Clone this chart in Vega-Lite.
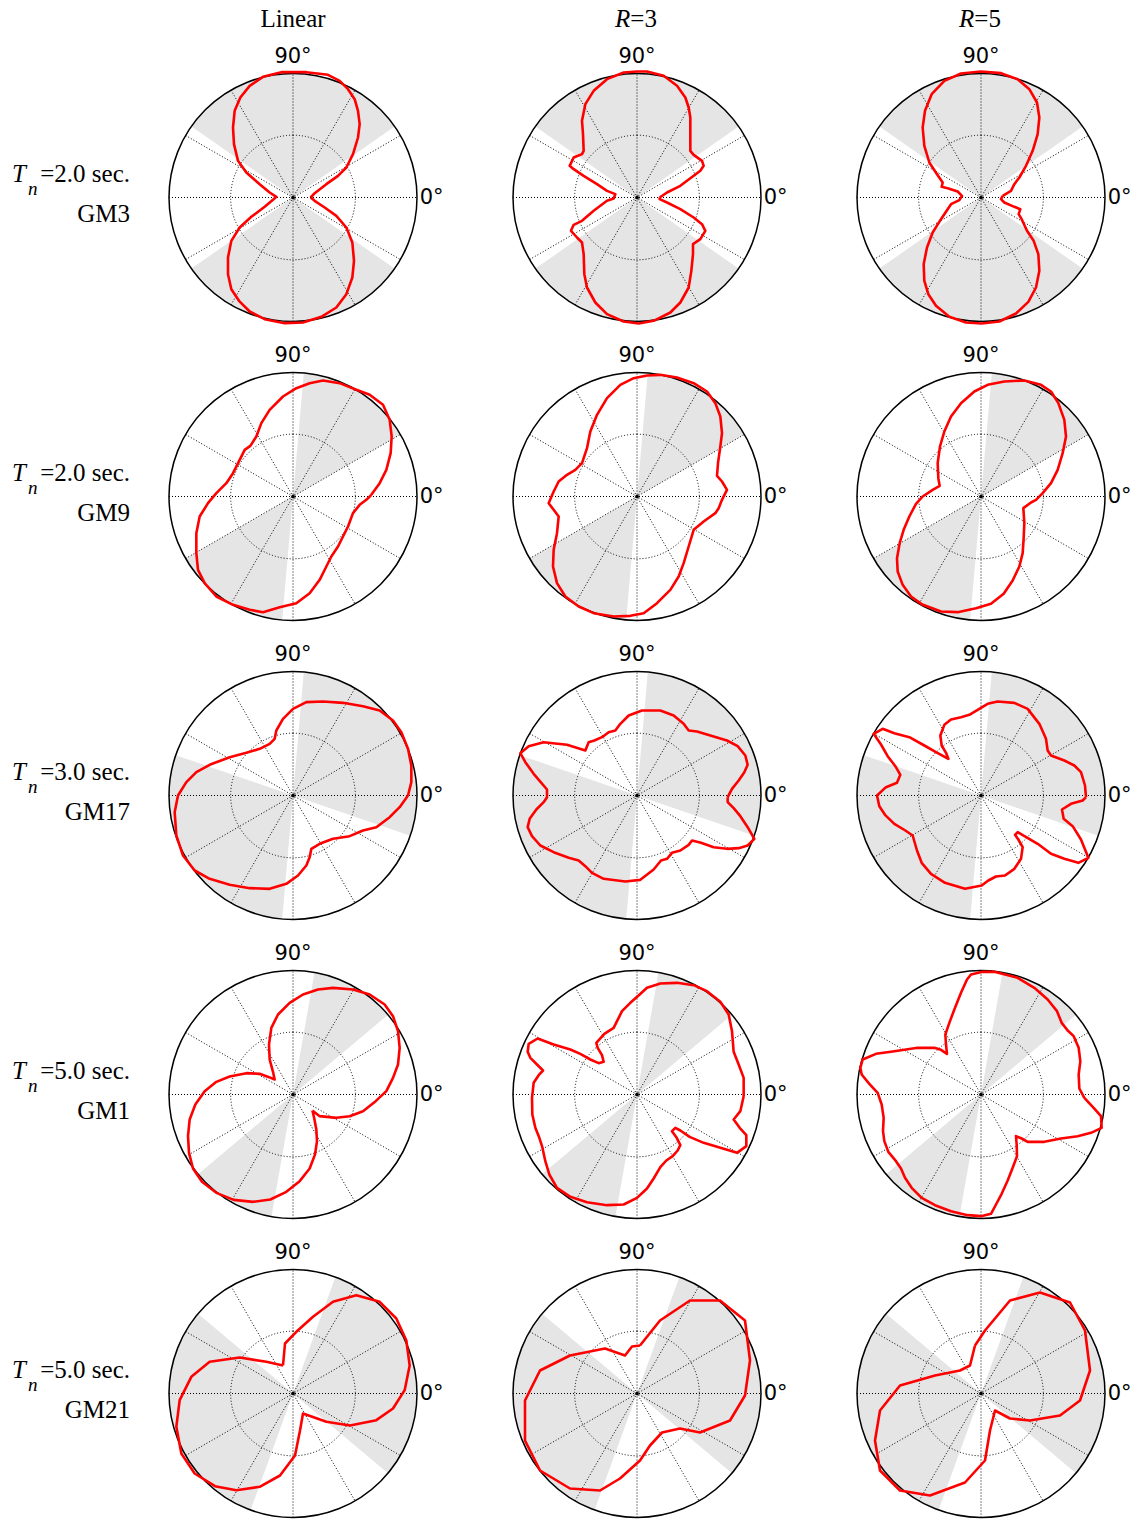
{
"$schema":"https://vega.github.io/schema/vega-lite/v6.json",
"background":"white",
"padding":{"left":12,"top":6,"right":5,"bottom":5},
"config":{"view":{"stroke":null}},
"data":{"values":[
{"r":1,"c":1,"k":"p","t":"=2.0 sec.","g":"GM3","h":"Linear"},
{"r":1,"c":2,"k":"p","h":"=3"},
{"r":1,"c":3,"k":"p","h":"=5"},
{"r":2,"c":1,"k":"p","t":"=2.0 sec.","g":"GM9"},
{"r":2,"c":2,"k":"p"},
{"r":2,"c":3,"k":"p"},
{"r":3,"c":1,"k":"p","t":"=3.0 sec.","g":"GM17"},
{"r":3,"c":2,"k":"p"},
{"r":3,"c":3,"k":"p"},
{"r":4,"c":1,"k":"p","t":"=5.0 sec.","g":"GM1"},
{"r":4,"c":2,"k":"p"},
{"r":4,"c":3,"k":"p"},
{"r":5,"c":1,"k":"p","t":"=5.0 sec.","g":"GM21"},
{"r":5,"c":2,"k":"p"},
{"r":5,"c":3,"k":"p"},
{"r":1,"c":1,"k":"w","a1":35,"a2":145},{"r":1,"c":1,"k":"w","a1":215,"a2":325},
{"r":1,"c":2,"k":"w","a1":35,"a2":145},{"r":1,"c":2,"k":"w","a1":215,"a2":325},
{"r":1,"c":3,"k":"w","a1":35,"a2":145},{"r":1,"c":3,"k":"w","a1":215,"a2":325},
{"r":2,"c":1,"k":"w","a1":30,"a2":85},{"r":2,"c":1,"k":"w","a1":210,"a2":265},
{"r":2,"c":2,"k":"w","a1":30,"a2":85},{"r":2,"c":2,"k":"w","a1":210,"a2":265},
{"r":2,"c":3,"k":"w","a1":30,"a2":85},{"r":2,"c":3,"k":"w","a1":210,"a2":265},
{"r":3,"c":1,"k":"w","a1":-19,"a2":85},{"r":3,"c":1,"k":"w","a1":161,"a2":265},
{"r":3,"c":2,"k":"w","a1":-19,"a2":85},{"r":3,"c":2,"k":"w","a1":161,"a2":265},
{"r":3,"c":3,"k":"w","a1":-19,"a2":85},{"r":3,"c":3,"k":"w","a1":161,"a2":265},
{"r":4,"c":1,"k":"w","a1":40,"a2":80},{"r":4,"c":1,"k":"w","a1":220,"a2":260},
{"r":4,"c":2,"k":"w","a1":40,"a2":80},{"r":4,"c":2,"k":"w","a1":220,"a2":260},
{"r":4,"c":3,"k":"w","a1":40,"a2":80},{"r":4,"c":3,"k":"w","a1":220,"a2":260},
{"r":5,"c":1,"k":"w","a1":-40,"a2":70},{"r":5,"c":1,"k":"w","a1":140,"a2":250},
{"r":5,"c":2,"k":"w","a1":-40,"a2":70},{"r":5,"c":2,"k":"w","a1":140,"a2":250},
{"r":5,"c":3,"k":"w","a1":-40,"a2":70},{"r":5,"c":3,"k":"w","a1":140,"a2":250},

{"r":1,"c":1,"k":"c","x":0.53,"y":0},{"r":1,"c":1,"k":"c","x":0.65,"y":0.13},{"r":1,"c":1,"k":"c","x":1.0,"y":0.4},{"r":1,"c":1,"k":"c","x":1.35,"y":0.65},{"r":1,"c":1,"k":"c","x":1.6,"y":0.9},{"r":1,"c":1,"k":"c","x":1.8,"y":1.3},{"r":1,"c":1,"k":"c","x":1.95,"y":1.8},{"r":1,"c":1,"k":"c","x":2.0,"y":2.2},{"r":1,"c":1,"k":"c","x":1.95,"y":2.6},{"r":1,"c":1,"k":"c","x":1.85,"y":2.95},{"r":1,"c":1,"k":"c","x":1.65,"y":3.25},{"r":1,"c":1,"k":"c","x":1.4,"y":3.5},{"r":1,"c":1,"k":"c","x":1.05,"y":3.68},{"r":1,"c":1,"k":"c","x":0.4,"y":3.76},{"r":1,"c":1,"k":"c","x":-0.35,"y":3.76},{"r":1,"c":1,"k":"c","x":-0.9,"y":3.62},{"r":1,"c":1,"k":"c","x":-1.3,"y":3.35},{"r":1,"c":1,"k":"c","x":-1.58,"y":3.0},{"r":1,"c":1,"k":"c","x":-1.75,"y":2.6},{"r":1,"c":1,"k":"c","x":-1.8,"y":2.1},{"r":1,"c":1,"k":"c","x":-1.77,"y":1.6},{"r":1,"c":1,"k":"c","x":-1.65,"y":1.1},{"r":1,"c":1,"k":"c","x":-1.4,"y":0.75},{"r":1,"c":1,"k":"c","x":-1.0,"y":0.4},{"r":1,"c":1,"k":"c","x":-0.7,"y":0.15},{"r":1,"c":1,"k":"c","x":-0.5,"y":0.02},{"r":1,"c":1,"k":"c","x":-0.6,"y":-0.07},{"r":1,"c":1,"k":"c","x":-0.85,"y":-0.28},{"r":1,"c":1,"k":"c","x":-1.25,"y":-0.58},{"r":1,"c":1,"k":"c","x":-1.6,"y":-0.9},{"r":1,"c":1,"k":"c","x":-1.85,"y":-1.3},{"r":1,"c":1,"k":"c","x":-1.95,"y":-1.8},{"r":1,"c":1,"k":"c","x":-1.95,"y":-2.3},{"r":1,"c":1,"k":"c","x":-1.85,"y":-2.75},{"r":1,"c":1,"k":"c","x":-1.62,"y":-3.1},{"r":1,"c":1,"k":"c","x":-1.3,"y":-3.42},{"r":1,"c":1,"k":"c","x":-0.85,"y":-3.65},{"r":1,"c":1,"k":"c","x":-0.25,"y":-3.77},{"r":1,"c":1,"k":"c","x":0.3,"y":-3.75},{"r":1,"c":1,"k":"c","x":0.85,"y":-3.58},{"r":1,"c":1,"k":"c","x":1.3,"y":-3.3},{"r":1,"c":1,"k":"c","x":1.6,"y":-2.9},{"r":1,"c":1,"k":"c","x":1.78,"y":-2.4},{"r":1,"c":1,"k":"c","x":1.83,"y":-1.9},{"r":1,"c":1,"k":"c","x":1.78,"y":-1.35},{"r":1,"c":1,"k":"c","x":1.6,"y":-0.9},{"r":1,"c":1,"k":"c","x":1.3,"y":-0.55},{"r":1,"c":1,"k":"c","x":0.95,"y":-0.3},{"r":1,"c":1,"k":"c","x":0.65,"y":-0.1},{"r":1,"c":1,"k":"c","x":0.53,"y":0},

{"r":1,"c":2,"k":"c","x":0.68,"y":0},{"r":1,"c":2,"k":"c","x":0.9,"y":0.15},{"r":1,"c":2,"k":"c","x":1.3,"y":0.35},{"r":1,"c":2,"k":"c","x":1.7,"y":0.65},{"r":1,"c":2,"k":"c","x":1.9,"y":0.8},{"r":1,"c":2,"k":"c","x":2.0,"y":0.95},{"r":1,"c":2,"k":"c","x":1.95,"y":1.1},{"r":1,"c":2,"k":"c","x":1.7,"y":1.28},{"r":1,"c":2,"k":"c","x":1.6,"y":1.4},{"r":1,"c":2,"k":"c","x":1.6,"y":1.9},{"r":1,"c":2,"k":"c","x":1.6,"y":2.4},{"r":1,"c":2,"k":"c","x":1.55,"y":2.7},{"r":1,"c":2,"k":"c","x":1.45,"y":3.0},{"r":1,"c":2,"k":"c","x":1.2,"y":3.35},{"r":1,"c":2,"k":"c","x":0.8,"y":3.65},{"r":1,"c":2,"k":"c","x":0.3,"y":3.78},{"r":1,"c":2,"k":"c","x":0.0,"y":3.78},{"r":1,"c":2,"k":"c","x":-0.4,"y":3.75},{"r":1,"c":2,"k":"c","x":-0.9,"y":3.55},{"r":1,"c":2,"k":"c","x":-1.3,"y":3.2},{"r":1,"c":2,"k":"c","x":-1.55,"y":2.8},{"r":1,"c":2,"k":"c","x":-1.65,"y":2.3},{"r":1,"c":2,"k":"c","x":-1.62,"y":1.9},{"r":1,"c":2,"k":"c","x":-1.6,"y":1.4},{"r":1,"c":2,"k":"c","x":-1.65,"y":1.3},{"r":1,"c":2,"k":"c","x":-1.9,"y":1.2},{"r":1,"c":2,"k":"c","x":-2.02,"y":0.95},{"r":1,"c":2,"k":"c","x":-1.9,"y":0.85},{"r":1,"c":2,"k":"c","x":-1.6,"y":0.65},{"r":1,"c":2,"k":"c","x":-1.2,"y":0.4},{"r":1,"c":2,"k":"c","x":-0.9,"y":0.2},{"r":1,"c":2,"k":"c","x":-0.65,"y":0.1},{"r":1,"c":2,"k":"c","x":-0.7,"y":-0.03},{"r":1,"c":2,"k":"c","x":-0.9,"y":-0.1},{"r":1,"c":2,"k":"c","x":-1.3,"y":-0.4},{"r":1,"c":2,"k":"c","x":-1.65,"y":-0.7},{"r":1,"c":2,"k":"c","x":-1.9,"y":-0.82},{"r":1,"c":2,"k":"c","x":-1.98,"y":-1.0},{"r":1,"c":2,"k":"c","x":-1.8,"y":-1.2},{"r":1,"c":2,"k":"c","x":-1.65,"y":-1.35},{"r":1,"c":2,"k":"c","x":-1.6,"y":-1.7},{"r":1,"c":2,"k":"c","x":-1.58,"y":-2.3},{"r":1,"c":2,"k":"c","x":-1.5,"y":-2.7},{"r":1,"c":2,"k":"c","x":-1.25,"y":-3.15},{"r":1,"c":2,"k":"c","x":-0.9,"y":-3.5},{"r":1,"c":2,"k":"c","x":-0.4,"y":-3.72},{"r":1,"c":2,"k":"c","x":0.05,"y":-3.78},{"r":1,"c":2,"k":"c","x":0.5,"y":-3.7},{"r":1,"c":2,"k":"c","x":1.0,"y":-3.45},{"r":1,"c":2,"k":"c","x":1.3,"y":-3.15},{"r":1,"c":2,"k":"c","x":1.55,"y":-2.7},{"r":1,"c":2,"k":"c","x":1.63,"y":-2.2},{"r":1,"c":2,"k":"c","x":1.68,"y":-1.7},{"r":1,"c":2,"k":"c","x":1.68,"y":-1.4},{"r":1,"c":2,"k":"c","x":1.9,"y":-1.25},{"r":1,"c":2,"k":"c","x":2.05,"y":-1.0},{"r":1,"c":2,"k":"c","x":1.95,"y":-0.8},{"r":1,"c":2,"k":"c","x":1.7,"y":-0.6},{"r":1,"c":2,"k":"c","x":1.3,"y":-0.35},{"r":1,"c":2,"k":"c","x":0.9,"y":-0.15},{"r":1,"c":2,"k":"c","x":0.68,"y":-0.05},{"r":1,"c":2,"k":"c","x":0.68,"y":0},

{"r":1,"c":3,"k":"c","x":0.65,"y":0.05},{"r":1,"c":3,"k":"c","x":0.9,"y":0.2},{"r":1,"c":3,"k":"c","x":1.0,"y":0.4},{"r":1,"c":3,"k":"c","x":1.15,"y":0.6},{"r":1,"c":3,"k":"c","x":1.35,"y":0.95},{"r":1,"c":3,"k":"c","x":1.55,"y":1.4},{"r":1,"c":3,"k":"c","x":1.7,"y":1.9},{"r":1,"c":3,"k":"c","x":1.75,"y":2.4},{"r":1,"c":3,"k":"c","x":1.68,"y":2.85},{"r":1,"c":3,"k":"c","x":1.45,"y":3.25},{"r":1,"c":3,"k":"c","x":1.1,"y":3.55},{"r":1,"c":3,"k":"c","x":0.6,"y":3.73},{"r":1,"c":3,"k":"c","x":0,"y":3.78},{"r":1,"c":3,"k":"c","x":-0.6,"y":3.72},{"r":1,"c":3,"k":"c","x":-1.1,"y":3.5},{"r":1,"c":3,"k":"c","x":-1.48,"y":3.1},{"r":1,"c":3,"k":"c","x":-1.68,"y":2.6},{"r":1,"c":3,"k":"c","x":-1.75,"y":2.1},{"r":1,"c":3,"k":"c","x":-1.7,"y":1.55},{"r":1,"c":3,"k":"c","x":-1.55,"y":1.05},{"r":1,"c":3,"k":"c","x":-1.32,"y":0.7},{"r":1,"c":3,"k":"c","x":-1.15,"y":0.45},{"r":1,"c":3,"k":"c","x":-1.18,"y":0.32},{"r":1,"c":3,"k":"c","x":-1.0,"y":0.28},{"r":1,"c":3,"k":"c","x":-0.7,"y":0.18},{"r":1,"c":3,"k":"c","x":-0.57,"y":0.05},{"r":1,"c":3,"k":"c","x":-0.65,"y":-0.08},{"r":1,"c":3,"k":"c","x":-0.9,"y":-0.2},{"r":1,"c":3,"k":"c","x":-1.0,"y":-0.35},{"r":1,"c":3,"k":"c","x":-1.2,"y":-0.65},{"r":1,"c":3,"k":"c","x":-1.45,"y":-1.05},{"r":1,"c":3,"k":"c","x":-1.62,"y":-1.5},{"r":1,"c":3,"k":"c","x":-1.72,"y":-2.0},{"r":1,"c":3,"k":"c","x":-1.7,"y":-2.5},{"r":1,"c":3,"k":"c","x":-1.58,"y":-2.9},{"r":1,"c":3,"k":"c","x":-1.35,"y":-3.25},{"r":1,"c":3,"k":"c","x":-0.95,"y":-3.58},{"r":1,"c":3,"k":"c","x":-0.45,"y":-3.75},{"r":1,"c":3,"k":"c","x":0.02,"y":-3.78},{"r":1,"c":3,"k":"c","x":0.55,"y":-3.72},{"r":1,"c":3,"k":"c","x":1.05,"y":-3.48},{"r":1,"c":3,"k":"c","x":1.42,"y":-3.13},{"r":1,"c":3,"k":"c","x":1.65,"y":-2.7},{"r":1,"c":3,"k":"c","x":1.75,"y":-2.2},{"r":1,"c":3,"k":"c","x":1.72,"y":-1.7},{"r":1,"c":3,"k":"c","x":1.58,"y":-1.3},{"r":1,"c":3,"k":"c","x":1.38,"y":-1.0},{"r":1,"c":3,"k":"c","x":1.22,"y":-0.65},{"r":1,"c":3,"k":"c","x":1.13,"y":-0.5},{"r":1,"c":3,"k":"c","x":1.18,"y":-0.35},{"r":1,"c":3,"k":"c","x":1.0,"y":-0.28},{"r":1,"c":3,"k":"c","x":0.7,"y":-0.15},{"r":1,"c":3,"k":"c","x":0.6,"y":-0.05},{"r":1,"c":3,"k":"c","x":0.65,"y":0.05},

{"r":2,"c":1,"k":"c","x":2.35,"y":0.05},{"r":2,"c":1,"k":"c","x":2.6,"y":0.4},{"r":2,"c":1,"k":"c","x":2.8,"y":0.8},{"r":2,"c":1,"k":"c","x":2.93,"y":1.3},{"r":2,"c":1,"k":"c","x":2.96,"y":1.8},{"r":2,"c":1,"k":"c","x":2.9,"y":2.3},{"r":2,"c":1,"k":"c","x":2.7,"y":2.75},{"r":2,"c":1,"k":"c","x":2.3,"y":3.05},{"r":2,"c":1,"k":"c","x":1.9,"y":3.2},{"r":2,"c":1,"k":"c","x":1.4,"y":3.4},{"r":2,"c":1,"k":"c","x":0.9,"y":3.48},{"r":2,"c":1,"k":"c","x":0.5,"y":3.4},{"r":2,"c":1,"k":"c","x":0.1,"y":3.25},{"r":2,"c":1,"k":"c","x":-0.3,"y":3.0},{"r":2,"c":1,"k":"c","x":-0.7,"y":2.6},{"r":2,"c":1,"k":"c","x":-0.95,"y":2.2},{"r":2,"c":1,"k":"c","x":-1.1,"y":1.8},{"r":2,"c":1,"k":"c","x":-1.28,"y":1.52},{"r":2,"c":1,"k":"c","x":-1.45,"y":1.4},{"r":2,"c":1,"k":"c","x":-1.6,"y":1.1},{"r":2,"c":1,"k":"c","x":-1.8,"y":0.7},{"r":2,"c":1,"k":"c","x":-2.0,"y":0.4},{"r":2,"c":1,"k":"c","x":-2.3,"y":0.1},{"r":2,"c":1,"k":"c","x":-2.55,"y":-0.2},{"r":2,"c":1,"k":"c","x":-2.8,"y":-0.6},{"r":2,"c":1,"k":"c","x":-2.9,"y":-1.1},{"r":2,"c":1,"k":"c","x":-2.9,"y":-1.7},{"r":2,"c":1,"k":"c","x":-2.85,"y":-2.2},{"r":2,"c":1,"k":"c","x":-2.65,"y":-2.6},{"r":2,"c":1,"k":"c","x":-2.3,"y":-3.0},{"r":2,"c":1,"k":"c","x":-1.8,"y":-3.25},{"r":2,"c":1,"k":"c","x":-1.3,"y":-3.4},{"r":2,"c":1,"k":"c","x":-0.9,"y":-3.47},{"r":2,"c":1,"k":"c","x":-0.4,"y":-3.32},{"r":2,"c":1,"k":"c","x":0.1,"y":-3.2},{"r":2,"c":1,"k":"c","x":0.5,"y":-2.9},{"r":2,"c":1,"k":"c","x":0.8,"y":-2.5},{"r":2,"c":1,"k":"c","x":1.0,"y":-2.1},{"r":2,"c":1,"k":"c","x":1.15,"y":-1.8},{"r":2,"c":1,"k":"c","x":1.35,"y":-1.5},{"r":2,"c":1,"k":"c","x":1.5,"y":-1.2},{"r":2,"c":1,"k":"c","x":1.65,"y":-0.9},{"r":2,"c":1,"k":"c","x":1.8,"y":-0.5},{"r":2,"c":1,"k":"c","x":2.0,"y":-0.25},{"r":2,"c":1,"k":"c","x":2.2,"y":-0.1},{"r":2,"c":1,"k":"c","x":2.35,"y":0.05},

{"r":2,"c":2,"k":"c","x":2.65,"y":0.1},{"r":2,"c":2,"k":"c","x":2.7,"y":0.2},{"r":2,"c":2,"k":"c","x":2.55,"y":0.45},{"r":2,"c":2,"k":"c","x":2.4,"y":0.62},{"r":2,"c":2,"k":"c","x":2.43,"y":1.0},{"r":2,"c":2,"k":"c","x":2.5,"y":1.5},{"r":2,"c":2,"k":"c","x":2.55,"y":1.9},{"r":2,"c":2,"k":"c","x":2.5,"y":2.4},{"r":2,"c":2,"k":"c","x":2.35,"y":2.8},{"r":2,"c":2,"k":"c","x":2.1,"y":3.15},{"r":2,"c":2,"k":"c","x":1.7,"y":3.4},{"r":2,"c":2,"k":"c","x":1.2,"y":3.57},{"r":2,"c":2,"k":"c","x":0.7,"y":3.65},{"r":2,"c":2,"k":"c","x":0.3,"y":3.63},{"r":2,"c":2,"k":"c","x":-0.1,"y":3.55},{"r":2,"c":2,"k":"c","x":-0.5,"y":3.35},{"r":2,"c":2,"k":"c","x":-0.9,"y":2.95},{"r":2,"c":2,"k":"c","x":-1.2,"y":2.45},{"r":2,"c":2,"k":"c","x":-1.4,"y":1.95},{"r":2,"c":2,"k":"c","x":-1.5,"y":1.45},{"r":2,"c":2,"k":"c","x":-1.65,"y":1.0},{"r":2,"c":2,"k":"c","x":-1.85,"y":0.8},{"r":2,"c":2,"k":"c","x":-2.1,"y":0.65},{"r":2,"c":2,"k":"c","x":-2.35,"y":0.45},{"r":2,"c":2,"k":"c","x":-2.5,"y":0.15},{"r":2,"c":2,"k":"c","x":-2.65,"y":-0.2},{"r":2,"c":2,"k":"c","x":-2.5,"y":-0.4},{"r":2,"c":2,"k":"c","x":-2.35,"y":-0.6},{"r":2,"c":2,"k":"c","x":-2.4,"y":-1.1},{"r":2,"c":2,"k":"c","x":-2.5,"y":-1.6},{"r":2,"c":2,"k":"c","x":-2.52,"y":-2.1},{"r":2,"c":2,"k":"c","x":-2.4,"y":-2.6},{"r":2,"c":2,"k":"c","x":-2.15,"y":-3.0},{"r":2,"c":2,"k":"c","x":-1.75,"y":-3.3},{"r":2,"c":2,"k":"c","x":-1.3,"y":-3.5},{"r":2,"c":2,"k":"c","x":-0.7,"y":-3.6},{"r":2,"c":2,"k":"c","x":-0.2,"y":-3.58},{"r":2,"c":2,"k":"c","x":0.2,"y":-3.5},{"r":2,"c":2,"k":"c","x":0.6,"y":-3.2},{"r":2,"c":2,"k":"c","x":1.0,"y":-2.8},{"r":2,"c":2,"k":"c","x":1.25,"y":-2.4},{"r":2,"c":2,"k":"c","x":1.4,"y":-2.0},{"r":2,"c":2,"k":"c","x":1.55,"y":-1.5},{"r":2,"c":2,"k":"c","x":1.7,"y":-1.0},{"r":2,"c":2,"k":"c","x":2.0,"y":-0.75},{"r":2,"c":2,"k":"c","x":2.35,"y":-0.5},{"r":2,"c":2,"k":"c","x":2.45,"y":-0.35},{"r":2,"c":2,"k":"c","x":2.55,"y":-0.1},{"r":2,"c":2,"k":"c","x":2.65,"y":0.1},

{"r":2,"c":3,"k":"c","x":1.85,"y":0.1},{"r":2,"c":3,"k":"c","x":2.1,"y":0.4},{"r":2,"c":3,"k":"c","x":2.3,"y":0.8},{"r":2,"c":3,"k":"c","x":2.45,"y":1.3},{"r":2,"c":3,"k":"c","x":2.55,"y":1.8},{"r":2,"c":3,"k":"c","x":2.5,"y":2.3},{"r":2,"c":3,"k":"c","x":2.32,"y":2.8},{"r":2,"c":3,"k":"c","x":2.1,"y":3.15},{"r":2,"c":3,"k":"c","x":1.8,"y":3.35},{"r":2,"c":3,"k":"c","x":1.3,"y":3.48},{"r":2,"c":3,"k":"c","x":0.7,"y":3.45},{"r":2,"c":3,"k":"c","x":0.2,"y":3.35},{"r":2,"c":3,"k":"c","x":-0.2,"y":3.15},{"r":2,"c":3,"k":"c","x":-0.6,"y":2.8},{"r":2,"c":3,"k":"c","x":-0.9,"y":2.4},{"r":2,"c":3,"k":"c","x":-1.1,"y":1.95},{"r":2,"c":3,"k":"c","x":-1.23,"y":1.5},{"r":2,"c":3,"k":"c","x":-1.3,"y":1.0},{"r":2,"c":3,"k":"c","x":-1.28,"y":0.55},{"r":2,"c":3,"k":"c","x":-1.24,"y":0.32},{"r":2,"c":3,"k":"c","x":-1.45,"y":0.2},{"r":2,"c":3,"k":"c","x":-1.75,"y":0.0},{"r":2,"c":3,"k":"c","x":-1.95,"y":-0.22},{"r":2,"c":3,"k":"c","x":-2.15,"y":-0.6},{"r":2,"c":3,"k":"c","x":-2.32,"y":-1.0},{"r":2,"c":3,"k":"c","x":-2.44,"y":-1.4},{"r":2,"c":3,"k":"c","x":-2.52,"y":-1.85},{"r":2,"c":3,"k":"c","x":-2.5,"y":-2.25},{"r":2,"c":3,"k":"c","x":-2.35,"y":-2.65},{"r":2,"c":3,"k":"c","x":-2.1,"y":-3.0},{"r":2,"c":3,"k":"c","x":-1.78,"y":-3.23},{"r":2,"c":3,"k":"c","x":-1.2,"y":-3.45},{"r":2,"c":3,"k":"c","x":-0.7,"y":-3.47},{"r":2,"c":3,"k":"c","x":-0.15,"y":-3.35},{"r":2,"c":3,"k":"c","x":0.3,"y":-3.22},{"r":2,"c":3,"k":"c","x":0.68,"y":-2.92},{"r":2,"c":3,"k":"c","x":0.95,"y":-2.52},{"r":2,"c":3,"k":"c","x":1.15,"y":-2.1},{"r":2,"c":3,"k":"c","x":1.25,"y":-1.7},{"r":2,"c":3,"k":"c","x":1.28,"y":-1.25},{"r":2,"c":3,"k":"c","x":1.3,"y":-0.8},{"r":2,"c":3,"k":"c","x":1.27,"y":-0.35},{"r":2,"c":3,"k":"c","x":1.5,"y":-0.18},{"r":2,"c":3,"k":"c","x":1.65,"y":-0.1},{"r":2,"c":3,"k":"c","x":1.85,"y":0.1},

{"r":3,"c":1,"k":"c","x":3.45,"y":0},{"r":3,"c":1,"k":"c","x":3.55,"y":0.4},{"r":3,"c":1,"k":"c","x":3.55,"y":0.9},{"r":3,"c":1,"k":"c","x":3.45,"y":1.4},{"r":3,"c":1,"k":"c","x":3.25,"y":1.9},{"r":3,"c":1,"k":"c","x":3.0,"y":2.25},{"r":3,"c":1,"k":"c","x":2.6,"y":2.55},{"r":3,"c":1,"k":"c","x":2.1,"y":2.68},{"r":3,"c":1,"k":"c","x":1.5,"y":2.78},{"r":3,"c":1,"k":"c","x":0.9,"y":2.82},{"r":3,"c":1,"k":"c","x":0.4,"y":2.8},{"r":3,"c":1,"k":"c","x":0.0,"y":2.6},{"r":3,"c":1,"k":"c","x":-0.3,"y":2.3},{"r":3,"c":1,"k":"c","x":-0.5,"y":1.95},{"r":3,"c":1,"k":"c","x":-0.55,"y":1.7},{"r":3,"c":1,"k":"c","x":-0.7,"y":1.55},{"r":3,"c":1,"k":"c","x":-1.0,"y":1.4},{"r":3,"c":1,"k":"c","x":-1.4,"y":1.28},{"r":3,"c":1,"k":"c","x":-1.9,"y":1.15},{"r":3,"c":1,"k":"c","x":-2.5,"y":0.92},{"r":3,"c":1,"k":"c","x":-2.9,"y":0.7},{"r":3,"c":1,"k":"c","x":-3.2,"y":0.4},{"r":3,"c":1,"k":"c","x":-3.45,"y":0.0},{"r":3,"c":1,"k":"c","x":-3.55,"y":-0.5},{"r":3,"c":1,"k":"c","x":-3.5,"y":-1.2},{"r":3,"c":1,"k":"c","x":-3.3,"y":-1.8},{"r":3,"c":1,"k":"c","x":-2.95,"y":-2.25},{"r":3,"c":1,"k":"c","x":-2.5,"y":-2.5},{"r":3,"c":1,"k":"c","x":-1.9,"y":-2.68},{"r":3,"c":1,"k":"c","x":-1.3,"y":-2.78},{"r":3,"c":1,"k":"c","x":-0.7,"y":-2.8},{"r":3,"c":1,"k":"c","x":-0.2,"y":-2.65},{"r":3,"c":1,"k":"c","x":0.15,"y":-2.4},{"r":3,"c":1,"k":"c","x":0.4,"y":-2.1},{"r":3,"c":1,"k":"c","x":0.5,"y":-1.85},{"r":3,"c":1,"k":"c","x":0.55,"y":-1.6},{"r":3,"c":1,"k":"c","x":0.8,"y":-1.45},{"r":3,"c":1,"k":"c","x":1.2,"y":-1.3},{"r":3,"c":1,"k":"c","x":1.7,"y":-1.22},{"r":3,"c":1,"k":"c","x":2.1,"y":-1.05},{"r":3,"c":1,"k":"c","x":2.5,"y":-0.95},{"r":3,"c":1,"k":"c","x":2.9,"y":-0.65},{"r":3,"c":1,"k":"c","x":3.2,"y":-0.35},{"r":3,"c":1,"k":"c","x":3.45,"y":0},

{"r":3,"c":2,"k":"c","x":2.72,"y":-0.05},{"r":3,"c":2,"k":"c","x":2.85,"y":0.2},{"r":3,"c":2,"k":"c","x":3.05,"y":0.45},{"r":3,"c":2,"k":"c","x":3.22,"y":0.7},{"r":3,"c":2,"k":"c","x":3.32,"y":0.92},{"r":3,"c":2,"k":"c","x":3.25,"y":1.2},{"r":3,"c":2,"k":"c","x":3.02,"y":1.48},{"r":3,"c":2,"k":"c","x":2.7,"y":1.65},{"r":3,"c":2,"k":"c","x":2.3,"y":1.77},{"r":3,"c":2,"k":"c","x":1.8,"y":1.92},{"r":3,"c":2,"k":"c","x":1.55,"y":1.95},{"r":3,"c":2,"k":"c","x":1.4,"y":2.15},{"r":3,"c":2,"k":"c","x":1.1,"y":2.4},{"r":3,"c":2,"k":"c","x":0.7,"y":2.55},{"r":3,"c":2,"k":"c","x":0.15,"y":2.55},{"r":3,"c":2,"k":"c","x":-0.25,"y":2.4},{"r":3,"c":2,"k":"c","x":-0.5,"y":2.15},{"r":3,"c":2,"k":"c","x":-0.65,"y":1.95},{"r":3,"c":2,"k":"c","x":-0.85,"y":1.9},{"r":3,"c":2,"k":"c","x":-1.05,"y":1.75},{"r":3,"c":2,"k":"c","x":-1.28,"y":1.65},{"r":3,"c":2,"k":"c","x":-1.45,"y":1.6},{"r":3,"c":2,"k":"c","x":-1.55,"y":1.35},{"r":3,"c":2,"k":"c","x":-2.1,"y":1.52},{"r":3,"c":2,"k":"c","x":-2.8,"y":1.6},{"r":3,"c":2,"k":"c","x":-3.25,"y":1.48},{"r":3,"c":2,"k":"c","x":-3.5,"y":1.27},{"r":3,"c":2,"k":"c","x":-3.35,"y":1.0},{"r":3,"c":2,"k":"c","x":-3.1,"y":0.65},{"r":3,"c":2,"k":"c","x":-2.87,"y":0.38},{"r":3,"c":2,"k":"c","x":-2.7,"y":0.18},{"r":3,"c":2,"k":"c","x":-2.7,"y":-0.05},{"r":3,"c":2,"k":"c","x":-2.8,"y":-0.2},{"r":3,"c":2,"k":"c","x":-3.02,"y":-0.42},{"r":3,"c":2,"k":"c","x":-3.22,"y":-0.7},{"r":3,"c":2,"k":"c","x":-3.28,"y":-0.95},{"r":3,"c":2,"k":"c","x":-3.15,"y":-1.22},{"r":3,"c":2,"k":"c","x":-2.9,"y":-1.5},{"r":3,"c":2,"k":"c","x":-2.5,"y":-1.7},{"r":3,"c":2,"k":"c","x":-2.05,"y":-1.87},{"r":3,"c":2,"k":"c","x":-1.75,"y":-1.95},{"r":3,"c":2,"k":"c","x":-1.55,"y":-2.12},{"r":3,"c":2,"k":"c","x":-1.35,"y":-2.32},{"r":3,"c":2,"k":"c","x":-1.0,"y":-2.5},{"r":3,"c":2,"k":"c","x":-0.35,"y":-2.58},{"r":3,"c":2,"k":"c","x":0.1,"y":-2.53},{"r":3,"c":2,"k":"c","x":0.5,"y":-2.22},{"r":3,"c":2,"k":"c","x":0.72,"y":-1.95},{"r":3,"c":2,"k":"c","x":0.9,"y":-1.9},{"r":3,"c":2,"k":"c","x":1.05,"y":-1.72},{"r":3,"c":2,"k":"c","x":1.3,"y":-1.65},{"r":3,"c":2,"k":"c","x":1.55,"y":-1.48},{"r":3,"c":2,"k":"c","x":1.65,"y":-1.35},{"r":3,"c":2,"k":"c","x":1.92,"y":-1.42},{"r":3,"c":2,"k":"c","x":2.3,"y":-1.55},{"r":3,"c":2,"k":"c","x":2.7,"y":-1.6},{"r":3,"c":2,"k":"c","x":3.05,"y":-1.58},{"r":3,"c":2,"k":"c","x":3.32,"y":-1.5},{"r":3,"c":2,"k":"c","x":3.52,"y":-1.3},{"r":3,"c":2,"k":"c","x":3.32,"y":-0.95},{"r":3,"c":2,"k":"c","x":3.1,"y":-0.62},{"r":3,"c":2,"k":"c","x":2.9,"y":-0.38},{"r":3,"c":2,"k":"c","x":2.72,"y":-0.2},{"r":3,"c":2,"k":"c","x":2.72,"y":-0.05},

{"r":3,"c":3,"k":"c","x":3.15,"y":-0.05},{"r":3,"c":3,"k":"c","x":3.12,"y":0.3},{"r":3,"c":3,"k":"c","x":3.0,"y":0.7},{"r":3,"c":3,"k":"c","x":2.8,"y":0.9},{"r":3,"c":3,"k":"c","x":2.5,"y":1.05},{"r":3,"c":3,"k":"c","x":2.1,"y":1.2},{"r":3,"c":3,"k":"c","x":2.0,"y":1.35},{"r":3,"c":3,"k":"c","x":1.95,"y":1.7},{"r":3,"c":3,"k":"c","x":1.75,"y":2.15},{"r":3,"c":3,"k":"c","x":1.4,"y":2.6},{"r":3,"c":3,"k":"c","x":1.0,"y":2.78},{"r":3,"c":3,"k":"c","x":0.5,"y":2.82},{"r":3,"c":3,"k":"c","x":0.2,"y":2.75},{"r":3,"c":3,"k":"c","x":-0.05,"y":2.6},{"r":3,"c":3,"k":"c","x":-0.35,"y":2.42},{"r":3,"c":3,"k":"c","x":-0.6,"y":2.35},{"r":3,"c":3,"k":"c","x":-0.9,"y":2.28},{"r":3,"c":3,"k":"c","x":-1.1,"y":2.12},{"r":3,"c":3,"k":"c","x":-1.22,"y":1.8},{"r":3,"c":3,"k":"c","x":-1.18,"y":1.5},{"r":3,"c":3,"k":"c","x":-1.05,"y":1.28},{"r":3,"c":3,"k":"c","x":-0.98,"y":1.1},{"r":3,"c":3,"k":"c","x":-1.35,"y":1.3},{"r":3,"c":3,"k":"c","x":-1.7,"y":1.5},{"r":3,"c":3,"k":"c","x":-2.15,"y":1.75},{"r":3,"c":3,"k":"c","x":-2.6,"y":1.87},{"r":3,"c":3,"k":"c","x":-2.95,"y":2.0},{"r":3,"c":3,"k":"c","x":-3.22,"y":1.85},{"r":3,"c":3,"k":"c","x":-3.0,"y":1.53},{"r":3,"c":3,"k":"c","x":-2.8,"y":1.18},{"r":3,"c":3,"k":"c","x":-2.57,"y":0.88},{"r":3,"c":3,"k":"c","x":-2.42,"y":0.62},{"r":3,"c":3,"k":"c","x":-2.52,"y":0.38},{"r":3,"c":3,"k":"c","x":-2.85,"y":0.25},{"r":3,"c":3,"k":"c","x":-3.12,"y":0.0},{"r":3,"c":3,"k":"c","x":-3.05,"y":-0.32},{"r":3,"c":3,"k":"c","x":-2.88,"y":-0.58},{"r":3,"c":3,"k":"c","x":-2.6,"y":-0.85},{"r":3,"c":3,"k":"c","x":-2.27,"y":-1.05},{"r":3,"c":3,"k":"c","x":-2.05,"y":-1.2},{"r":3,"c":3,"k":"c","x":-1.92,"y":-1.65},{"r":3,"c":3,"k":"c","x":-1.78,"y":-2.02},{"r":3,"c":3,"k":"c","x":-1.5,"y":-2.35},{"r":3,"c":3,"k":"c","x":-1.08,"y":-2.62},{"r":3,"c":3,"k":"c","x":-0.48,"y":-2.8},{"r":3,"c":3,"k":"c","x":0.02,"y":-2.7},{"r":3,"c":3,"k":"c","x":0.22,"y":-2.55},{"r":3,"c":3,"k":"c","x":0.45,"y":-2.43},{"r":3,"c":3,"k":"c","x":0.72,"y":-2.4},{"r":3,"c":3,"k":"c","x":1.0,"y":-2.2},{"r":3,"c":3,"k":"c","x":1.2,"y":-1.9},{"r":3,"c":3,"k":"c","x":1.25,"y":-1.55},{"r":3,"c":3,"k":"c","x":1.12,"y":-1.32},{"r":3,"c":3,"k":"c","x":1.02,"y":-1.18},{"r":3,"c":3,"k":"c","x":1.1,"y":-1.1},{"r":3,"c":3,"k":"c","x":1.7,"y":-1.45},{"r":3,"c":3,"k":"c","x":2.1,"y":-1.75},{"r":3,"c":3,"k":"c","x":2.5,"y":-1.9},{"r":3,"c":3,"k":"c","x":2.92,"y":-2.02},{"r":3,"c":3,"k":"c","x":3.22,"y":-1.87},{"r":3,"c":3,"k":"c","x":3.0,"y":-1.32},{"r":3,"c":3,"k":"c","x":2.75,"y":-0.92},{"r":3,"c":3,"k":"c","x":2.48,"y":-0.7},{"r":3,"c":3,"k":"c","x":2.43,"y":-0.42},{"r":3,"c":3,"k":"c","x":2.7,"y":-0.25},{"r":3,"c":3,"k":"c","x":3.05,"y":-0.15},{"r":3,"c":3,"k":"c","x":3.15,"y":-0.05},

{"r":4,"c":1,"k":"c","x":0.58,"y":-0.48},{"r":4,"c":1,"k":"c","x":0.8,"y":-0.65},{"r":4,"c":1,"k":"c","x":1.3,"y":-0.7},{"r":4,"c":1,"k":"c","x":1.7,"y":-0.65},{"r":4,"c":1,"k":"c","x":2.1,"y":-0.5},{"r":4,"c":1,"k":"c","x":2.48,"y":-0.2},{"r":4,"c":1,"k":"c","x":2.8,"y":0.1},{"r":4,"c":1,"k":"c","x":3.0,"y":0.5},{"r":4,"c":1,"k":"c","x":3.15,"y":0.9},{"r":4,"c":1,"k":"c","x":3.2,"y":1.4},{"r":4,"c":1,"k":"c","x":3.15,"y":1.9},{"r":4,"c":1,"k":"c","x":3.0,"y":2.35},{"r":4,"c":1,"k":"c","x":2.75,"y":2.7},{"r":4,"c":1,"k":"c","x":2.3,"y":3.0},{"r":4,"c":1,"k":"c","x":1.8,"y":3.15},{"r":4,"c":1,"k":"c","x":1.2,"y":3.2},{"r":4,"c":1,"k":"c","x":0.75,"y":3.15},{"r":4,"c":1,"k":"c","x":0.3,"y":3.0},{"r":4,"c":1,"k":"c","x":-0.1,"y":2.75},{"r":4,"c":1,"k":"c","x":-0.45,"y":2.4},{"r":4,"c":1,"k":"c","x":-0.65,"y":2.0},{"r":4,"c":1,"k":"c","x":-0.72,"y":1.5},{"r":4,"c":1,"k":"c","x":-0.7,"y":1.05},{"r":4,"c":1,"k":"c","x":-0.6,"y":0.68},{"r":4,"c":1,"k":"c","x":-0.55,"y":0.45},{"r":4,"c":1,"k":"c","x":-0.72,"y":0.52},{"r":4,"c":1,"k":"c","x":-1.0,"y":0.62},{"r":4,"c":1,"k":"c","x":-1.4,"y":0.64},{"r":4,"c":1,"k":"c","x":-1.9,"y":0.54},{"r":4,"c":1,"k":"c","x":-2.3,"y":0.38},{"r":4,"c":1,"k":"c","x":-2.65,"y":0.1},{"r":4,"c":1,"k":"c","x":-2.93,"y":-0.3},{"r":4,"c":1,"k":"c","x":-3.1,"y":-0.75},{"r":4,"c":1,"k":"c","x":-3.15,"y":-1.25},{"r":4,"c":1,"k":"c","x":-3.12,"y":-1.75},{"r":4,"c":1,"k":"c","x":-3.0,"y":-2.22},{"r":4,"c":1,"k":"c","x":-2.73,"y":-2.62},{"r":4,"c":1,"k":"c","x":-2.3,"y":-2.95},{"r":4,"c":1,"k":"c","x":-1.78,"y":-3.16},{"r":4,"c":1,"k":"c","x":-1.2,"y":-3.22},{"r":4,"c":1,"k":"c","x":-0.68,"y":-3.15},{"r":4,"c":1,"k":"c","x":-0.2,"y":-2.92},{"r":4,"c":1,"k":"c","x":0.2,"y":-2.6},{"r":4,"c":1,"k":"c","x":0.5,"y":-2.22},{"r":4,"c":1,"k":"c","x":0.66,"y":-1.8},{"r":4,"c":1,"k":"c","x":0.72,"y":-1.4},{"r":4,"c":1,"k":"c","x":0.7,"y":-1.05},{"r":4,"c":1,"k":"c","x":0.65,"y":-0.78},{"r":4,"c":1,"k":"c","x":0.6,"y":-0.55},{"r":4,"c":1,"k":"c","x":0.58,"y":-0.48},

{"r":4,"c":2,"k":"c","x":3.2,"y":-0.05},{"r":4,"c":2,"k":"c","x":3.2,"y":0.5},{"r":4,"c":2,"k":"c","x":3.05,"y":0.9},{"r":4,"c":2,"k":"c","x":2.9,"y":1.28},{"r":4,"c":2,"k":"c","x":2.85,"y":1.9},{"r":4,"c":2,"k":"c","x":2.75,"y":2.4},{"r":4,"c":2,"k":"c","x":2.5,"y":2.78},{"r":4,"c":2,"k":"c","x":2.1,"y":3.1},{"r":4,"c":2,"k":"c","x":1.7,"y":3.28},{"r":4,"c":2,"k":"c","x":1.2,"y":3.35},{"r":4,"c":2,"k":"c","x":0.7,"y":3.33},{"r":4,"c":2,"k":"c","x":0.3,"y":3.2},{"r":4,"c":2,"k":"c","x":0.08,"y":3.0},{"r":4,"c":2,"k":"c","x":-0.2,"y":2.75},{"r":4,"c":2,"k":"c","x":-0.45,"y":2.5},{"r":4,"c":2,"k":"c","x":-0.6,"y":2.2},{"r":4,"c":2,"k":"c","x":-0.7,"y":2.0},{"r":4,"c":2,"k":"c","x":-0.98,"y":1.82},{"r":4,"c":2,"k":"c","x":-1.22,"y":1.55},{"r":4,"c":2,"k":"c","x":-1.18,"y":1.4},{"r":4,"c":2,"k":"c","x":-1.05,"y":1.18},{"r":4,"c":2,"k":"c","x":-1.0,"y":0.98},{"r":4,"c":2,"k":"c","x":-1.15,"y":0.94},{"r":4,"c":2,"k":"c","x":-1.4,"y":1.05},{"r":4,"c":2,"k":"c","x":-1.7,"y":1.22},{"r":4,"c":2,"k":"c","x":-2.0,"y":1.35},{"r":4,"c":2,"k":"c","x":-2.5,"y":1.5},{"r":4,"c":2,"k":"c","x":-2.98,"y":1.68},{"r":4,"c":2,"k":"c","x":-3.25,"y":1.52},{"r":4,"c":2,"k":"c","x":-3.28,"y":1.28},{"r":4,"c":2,"k":"c","x":-3.2,"y":1.1},{"r":4,"c":2,"k":"c","x":-3.0,"y":0.9},{"r":4,"c":2,"k":"c","x":-2.82,"y":0.72},{"r":4,"c":2,"k":"c","x":-2.95,"y":0.58},{"r":4,"c":2,"k":"c","x":-3.1,"y":0.35},{"r":4,"c":2,"k":"c","x":-3.15,"y":-0.1},{"r":4,"c":2,"k":"c","x":-3.14,"y":-0.6},{"r":4,"c":2,"k":"c","x":-3.05,"y":-1.0},{"r":4,"c":2,"k":"c","x":-2.93,"y":-1.3},{"r":4,"c":2,"k":"c","x":-2.84,"y":-1.58},{"r":4,"c":2,"k":"c","x":-2.75,"y":-2.0},{"r":4,"c":2,"k":"c","x":-2.63,"y":-2.4},{"r":4,"c":2,"k":"c","x":-2.4,"y":-2.8},{"r":4,"c":2,"k":"c","x":-2.0,"y":-3.07},{"r":4,"c":2,"k":"c","x":-1.5,"y":-3.23},{"r":4,"c":2,"k":"c","x":-0.9,"y":-3.32},{"r":4,"c":2,"k":"c","x":-0.4,"y":-3.3},{"r":4,"c":2,"k":"c","x":0.0,"y":-3.1},{"r":4,"c":2,"k":"c","x":0.3,"y":-2.82},{"r":4,"c":2,"k":"c","x":0.5,"y":-2.52},{"r":4,"c":2,"k":"c","x":0.7,"y":-2.18},{"r":4,"c":2,"k":"c","x":0.88,"y":-1.98},{"r":4,"c":2,"k":"c","x":1.07,"y":-1.85},{"r":4,"c":2,"k":"c","x":1.22,"y":-1.68},{"r":4,"c":2,"k":"c","x":1.3,"y":-1.52},{"r":4,"c":2,"k":"c","x":1.18,"y":-1.28},{"r":4,"c":2,"k":"c","x":1.05,"y":-1.1},{"r":4,"c":2,"k":"c","x":1.15,"y":-1.0},{"r":4,"c":2,"k":"c","x":1.3,"y":-1.08},{"r":4,"c":2,"k":"c","x":1.58,"y":-1.27},{"r":4,"c":2,"k":"c","x":2.0,"y":-1.45},{"r":4,"c":2,"k":"c","x":2.5,"y":-1.6},{"r":4,"c":2,"k":"c","x":3.0,"y":-1.75},{"r":4,"c":2,"k":"c","x":3.28,"y":-1.55},{"r":4,"c":2,"k":"c","x":3.28,"y":-1.22},{"r":4,"c":2,"k":"c","x":3.08,"y":-1.0},{"r":4,"c":2,"k":"c","x":2.9,"y":-0.75},{"r":4,"c":2,"k":"c","x":3.1,"y":-0.5},{"r":4,"c":2,"k":"c","x":3.2,"y":-0.05},

{"r":4,"c":3,"k":"c","x":3.1,"y":-0.1},{"r":4,"c":3,"k":"c","x":2.95,"y":0.18},{"r":4,"c":3,"k":"c","x":2.93,"y":0.6},{"r":4,"c":3,"k":"c","x":2.98,"y":1.0},{"r":4,"c":3,"k":"c","x":2.93,"y":1.4},{"r":4,"c":3,"k":"c","x":2.78,"y":1.75},{"r":4,"c":3,"k":"c","x":2.6,"y":1.92},{"r":4,"c":3,"k":"c","x":2.42,"y":2.15},{"r":4,"c":3,"k":"c","x":2.28,"y":2.5},{"r":4,"c":3,"k":"c","x":2.0,"y":2.85},{"r":4,"c":3,"k":"c","x":1.6,"y":3.2},{"r":4,"c":3,"k":"c","x":1.1,"y":3.5},{"r":4,"c":3,"k":"c","x":0.4,"y":3.68},{"r":4,"c":3,"k":"c","x":0.05,"y":3.68},{"r":4,"c":3,"k":"c","x":-0.3,"y":3.6},{"r":4,"c":3,"k":"c","x":-0.42,"y":3.45},{"r":4,"c":3,"k":"c","x":-0.6,"y":3.05},{"r":4,"c":3,"k":"c","x":-0.8,"y":2.55},{"r":4,"c":3,"k":"c","x":-0.95,"y":2.15},{"r":4,"c":3,"k":"c","x":-1.07,"y":1.8},{"r":4,"c":3,"k":"c","x":-1.05,"y":1.5},{"r":4,"c":3,"k":"c","x":-1.02,"y":1.22},{"r":4,"c":3,"k":"c","x":-1.2,"y":1.34},{"r":4,"c":3,"k":"c","x":-1.4,"y":1.4},{"r":4,"c":3,"k":"c","x":-1.9,"y":1.4},{"r":4,"c":3,"k":"c","x":-2.3,"y":1.34},{"r":4,"c":3,"k":"c","x":-2.7,"y":1.28},{"r":4,"c":3,"k":"c","x":-3.15,"y":1.22},{"r":4,"c":3,"k":"c","x":-3.55,"y":1.05},{"r":4,"c":3,"k":"c","x":-3.62,"y":0.8},{"r":4,"c":3,"k":"c","x":-3.58,"y":0.6},{"r":4,"c":3,"k":"c","x":-3.35,"y":0.32},{"r":4,"c":3,"k":"c","x":-3.1,"y":0.05},{"r":4,"c":3,"k":"c","x":-2.98,"y":-0.3},{"r":4,"c":3,"k":"c","x":-2.92,"y":-0.7},{"r":4,"c":3,"k":"c","x":-2.94,"y":-1.1},{"r":4,"c":3,"k":"c","x":-2.9,"y":-1.4},{"r":4,"c":3,"k":"c","x":-2.78,"y":-1.72},{"r":4,"c":3,"k":"c","x":-2.55,"y":-2.0},{"r":4,"c":3,"k":"c","x":-2.4,"y":-2.22},{"r":4,"c":3,"k":"c","x":-2.28,"y":-2.5},{"r":4,"c":3,"k":"c","x":-2.08,"y":-2.8},{"r":4,"c":3,"k":"c","x":-1.78,"y":-3.1},{"r":4,"c":3,"k":"c","x":-1.38,"y":-3.32},{"r":4,"c":3,"k":"c","x":-0.9,"y":-3.5},{"r":4,"c":3,"k":"c","x":-0.4,"y":-3.62},{"r":4,"c":3,"k":"c","x":0.0,"y":-3.65},{"r":4,"c":3,"k":"c","x":0.3,"y":-3.58},{"r":4,"c":3,"k":"c","x":0.45,"y":-3.3},{"r":4,"c":3,"k":"c","x":0.62,"y":-2.98},{"r":4,"c":3,"k":"c","x":0.8,"y":-2.58},{"r":4,"c":3,"k":"c","x":0.95,"y":-2.2},{"r":4,"c":3,"k":"c","x":1.08,"y":-1.85},{"r":4,"c":3,"k":"c","x":1.07,"y":-1.5},{"r":4,"c":3,"k":"c","x":1.05,"y":-1.25},{"r":4,"c":3,"k":"c","x":1.22,"y":-1.32},{"r":4,"c":3,"k":"c","x":1.4,"y":-1.42},{"r":4,"c":3,"k":"c","x":1.9,"y":-1.42},{"r":4,"c":3,"k":"c","x":2.4,"y":-1.32},{"r":4,"c":3,"k":"c","x":2.9,"y":-1.25},{"r":4,"c":3,"k":"c","x":3.3,"y":-1.15},{"r":4,"c":3,"k":"c","x":3.62,"y":-1.0},{"r":4,"c":3,"k":"c","x":3.6,"y":-0.65},{"r":4,"c":3,"k":"c","x":3.38,"y":-0.4},{"r":4,"c":3,"k":"c","x":3.1,"y":-0.1},

{"r":5,"c":1,"k":"c","x":-0.3,"y":0.84},{"r":5,"c":1,"k":"c","x":-0.24,"y":1.5},{"r":5,"c":1,"k":"c","x":0.1,"y":1.85},{"r":5,"c":1,"k":"c","x":0.6,"y":2.3},{"r":5,"c":1,"k":"c","x":1.2,"y":2.75},{"r":5,"c":1,"k":"c","x":1.9,"y":2.95},{"r":5,"c":1,"k":"c","x":2.6,"y":2.75},{"r":5,"c":1,"k":"c","x":3.1,"y":2.25},{"r":5,"c":1,"k":"c","x":3.4,"y":1.59},{"r":5,"c":1,"k":"c","x":3.5,"y":0.84},{"r":5,"c":1,"k":"c","x":3.35,"y":0.1},{"r":5,"c":1,"k":"c","x":3.0,"y":-0.45},{"r":5,"c":1,"k":"c","x":2.5,"y":-0.8},{"r":5,"c":1,"k":"c","x":1.71,"y":-0.96},{"r":5,"c":1,"k":"c","x":1.0,"y":-0.85},{"r":5,"c":1,"k":"c","x":0.3,"y":-0.6},{"r":5,"c":1,"k":"c","x":0.21,"y":-1.11},{"r":5,"c":1,"k":"c","x":0.06,"y":-1.86},{"r":5,"c":1,"k":"c","x":-0.39,"y":-2.46},{"r":5,"c":1,"k":"c","x":-1.0,"y":-2.8},{"r":5,"c":1,"k":"c","x":-1.7,"y":-2.9},{"r":5,"c":1,"k":"c","x":-2.34,"y":-2.78},{"r":5,"c":1,"k":"c","x":-2.95,"y":-2.4},{"r":5,"c":1,"k":"c","x":-3.35,"y":-1.8},{"r":5,"c":1,"k":"c","x":-3.5,"y":-1.0},{"r":5,"c":1,"k":"c","x":-3.4,"y":-0.2},{"r":5,"c":1,"k":"c","x":-3.05,"y":0.5},{"r":5,"c":1,"k":"c","x":-2.5,"y":0.95},{"r":5,"c":1,"k":"c","x":-1.6,"y":1.08},{"r":5,"c":1,"k":"c","x":-0.8,"y":0.95},{"r":5,"c":1,"k":"c","x":-0.3,"y":0.84},

{"r":5,"c":2,"k":"c","x":0.09,"y":1.44},{"r":5,"c":2,"k":"c","x":0.69,"y":2.19},{"r":5,"c":2,"k":"c","x":1.59,"y":2.79},{"r":5,"c":2,"k":"c","x":2.49,"y":2.79},{"r":5,"c":2,"k":"c","x":3.24,"y":2.19},{"r":5,"c":2,"k":"c","x":3.39,"y":0.99},{"r":5,"c":2,"k":"c","x":3.24,"y":-0.06},{"r":5,"c":2,"k":"c","x":2.79,"y":-0.81},{"r":5,"c":2,"k":"c","x":1.89,"y":-1.17},{"r":5,"c":2,"k":"c","x":1.29,"y":-1.05},{"r":5,"c":2,"k":"c","x":0.75,"y":-1.17},{"r":5,"c":2,"k":"c","x":0.39,"y":-1.56},{"r":5,"c":2,"k":"c","x":0.09,"y":-2.01},{"r":5,"c":2,"k":"c","x":-0.51,"y":-2.55},{"r":5,"c":2,"k":"c","x":-1.11,"y":-2.91},{"r":5,"c":2,"k":"c","x":-2.01,"y":-2.85},{"r":5,"c":2,"k":"c","x":-2.91,"y":-2.31},{"r":5,"c":2,"k":"c","x":-3.36,"y":-1.41},{"r":5,"c":2,"k":"c","x":-3.36,"y":-0.21},{"r":5,"c":2,"k":"c","x":-2.91,"y":0.69},{"r":5,"c":2,"k":"c","x":-2.01,"y":1.14},{"r":5,"c":2,"k":"c","x":-0.96,"y":1.35},{"r":5,"c":2,"k":"c","x":-0.36,"y":1.14},{"r":5,"c":2,"k":"c","x":-0.15,"y":1.41},{"r":5,"c":2,"k":"c","x":0.09,"y":1.44},

{"r":5,"c":3,"k":"c","x":-0.18,"y":1.44},{"r":5,"c":3,"k":"c","x":0.12,"y":1.89},{"r":5,"c":3,"k":"c","x":0.87,"y":2.79},{"r":5,"c":3,"k":"c","x":1.77,"y":3.03},{"r":5,"c":3,"k":"c","x":2.67,"y":2.73},{"r":5,"c":3,"k":"c","x":3.12,"y":1.89},{"r":5,"c":3,"k":"c","x":3.27,"y":0.69},{"r":5,"c":3,"k":"c","x":2.97,"y":-0.21},{"r":5,"c":3,"k":"c","x":2.37,"y":-0.66},{"r":5,"c":3,"k":"c","x":1.47,"y":-0.81},{"r":5,"c":3,"k":"c","x":0.87,"y":-0.75},{"r":5,"c":3,"k":"c","x":0.42,"y":-0.51},{"r":5,"c":3,"k":"c","x":0.27,"y":-1.11},{"r":5,"c":3,"k":"c","x":0.12,"y":-2.01},{"r":5,"c":3,"k":"c","x":-0.48,"y":-2.67},{"r":5,"c":3,"k":"c","x":-1.53,"y":-3.06},{"r":5,"c":3,"k":"c","x":-2.43,"y":-2.91},{"r":5,"c":3,"k":"c","x":-3.03,"y":-2.31},{"r":5,"c":3,"k":"c","x":-3.18,"y":-1.41},{"r":5,"c":3,"k":"c","x":-3.03,"y":-0.51},{"r":5,"c":3,"k":"c","x":-2.43,"y":0.24},{"r":5,"c":3,"k":"c","x":-1.38,"y":0.54},{"r":5,"c":3,"k":"c","x":-0.63,"y":0.69},{"r":5,"c":3,"k":"c","x":-0.33,"y":0.84},{"r":5,"c":3,"k":"c","x":-0.18,"y":1.44}
]},
"facet":{
 "row":{"field":"r","type":"ordinal","header":{"labels":false,"title":null}},
 "column":{"field":"c","type":"ordinal","header":{"labels":false,"title":null}}
},
"spacing":{"row":0,"column":44},
"bounds":"flush",
"spec":{
 "width":300,"height":299,
 "layer":[
  {"transform":[{"filter":"datum.k=='w'"}],
   "mark":{"type":"arc","color":"#e5e5e5","strokeWidth":0},
   "encoding":{
     "theta":{"field":"a1","type":"quantitative","stack":null,"scale":{"type":"linear","domain":[90,-270],"range":[0,6.283185],"zero":false,"nice":false}},
     "theta2":{"field":"a2"},
     "radius":{"datum":3.72,"type":"quantitative","scale":{"type":"linear","domain":[0,4.5],"range":[0,150],"zero":true,"nice":false}}}},
  {"transform":[{"filter":"datum.k=='p'"}],
   "mark":{"type":"rule","color":"black","strokeWidth":1,"strokeDash":[1,2]},
   "encoding":{"x":{"datum":-3.72,"type":"quantitative","scale":{"domain":[-4.5,4.5],"nice":false,"zero":false},"axis":null},"x2":{"datum":3.72},
     "y":{"datum":0,"type":"quantitative","scale":{"domain":[-4.485,4.485],"nice":false,"zero":false},"axis":null},"y2":{"datum":0}}},
  {"transform":[{"filter":"datum.k=='p'"}],
   "mark":{"type":"rule","color":"black","strokeWidth":1,"strokeDash":[1,2]},
   "encoding":{"x":{"datum":0,"type":"quantitative","axis":null},"x2":{"datum":0},
     "y":{"datum":-3.72,"type":"quantitative","axis":null},"y2":{"datum":3.72}}},
  {"transform":[{"filter":"datum.k=='p'"}],
   "mark":{"type":"rule","color":"black","strokeWidth":1,"strokeDash":[1,2]},
   "encoding":{"x":{"datum":-3.22,"type":"quantitative","axis":null},"x2":{"datum":3.22},
     "y":{"datum":-1.86,"type":"quantitative","axis":null},"y2":{"datum":1.86}}},
  {"transform":[{"filter":"datum.k=='p'"}],
   "mark":{"type":"rule","color":"black","strokeWidth":1,"strokeDash":[1,2]},
   "encoding":{"x":{"datum":-3.22,"type":"quantitative","axis":null},"x2":{"datum":3.22},
     "y":{"datum":1.86,"type":"quantitative","axis":null},"y2":{"datum":-1.86}}},
  {"transform":[{"filter":"datum.k=='p'"}],
   "mark":{"type":"rule","color":"black","strokeWidth":1,"strokeDash":[1,2]},
   "encoding":{"x":{"datum":-1.86,"type":"quantitative","axis":null},"x2":{"datum":1.86},
     "y":{"datum":-3.22,"type":"quantitative","axis":null},"y2":{"datum":3.22}}},
  {"transform":[{"filter":"datum.k=='p'"}],
   "mark":{"type":"rule","color":"black","strokeWidth":1,"strokeDash":[1,2]},
   "encoding":{"x":{"datum":-1.86,"type":"quantitative","axis":null},"x2":{"datum":1.86},
     "y":{"datum":3.22,"type":"quantitative","axis":null},"y2":{"datum":-3.22}}},
  {"transform":[{"filter":"datum.k=='p'"}],
   "mark":{"type":"arc","filled":false,"color":"black","strokeWidth":1,"strokeDash":[1,2],"theta":0,"theta2":6.2832},
   "encoding":{"radius":{"datum":1.87,"type":"quantitative"}}},
  {"transform":[{"filter":"datum.k=='p'"}],
   "mark":{"type":"arc","filled":false,"color":"black","strokeWidth":1.5,"theta":0,"theta2":6.2832},
   "encoding":{"radius":{"datum":3.72,"type":"quantitative"}}},
  {"transform":[{"filter":"datum.k=='p'"}],
   "mark":{"type":"point","filled":true,"color":"black","size":14,"opacity":1},
   "encoding":{"x":{"datum":0,"type":"quantitative","axis":null},"y":{"datum":0,"type":"quantitative","axis":null}}},
  {"transform":[{"filter":"datum.k=='c'"}],
   "mark":{"type":"line","color":"#ff0000","strokeWidth":2.6,"strokeJoin":"round"},
   "encoding":{"x":{"field":"x","type":"quantitative","axis":null},"y":{"field":"y","type":"quantitative","axis":null},"order":{"value":null}}},
  {"transform":[{"filter":"datum.k=='p'"}],
   "mark":{"type":"text","font":"DejaVu Sans","fontSize":21,"align":"center","baseline":"middle","color":"black"},
   "encoding":{"x":{"datum":0,"type":"quantitative","axis":null},"y":{"datum":4.22,"type":"quantitative","axis":null},"text":{"value":"90°"}}},
  {"transform":[{"filter":"datum.k=='p'"}],
   "mark":{"type":"text","font":"DejaVu Sans","fontSize":21,"align":"left","baseline":"middle","color":"black"},
   "encoding":{"x":{"datum":3.8,"type":"quantitative","axis":null},"y":{"datum":0,"type":"quantitative","axis":null},"text":{"value":"0°"}}},
  {"transform":[{"filter":"datum.k=='p' && datum.r==1 && datum.c==1"}],
   "mark":{"type":"text","font":"Liberation Serif","fontSize":25,"align":"center","baseline":"middle","color":"black"},
   "encoding":{"x":{"datum":0,"type":"quantitative","axis":null},"y":{"datum":5.37,"type":"quantitative","axis":null},"text":{"field":"h"}}},
  {"transform":[{"filter":"datum.k=='p' && datum.r==1 && datum.c>1"}],
   "mark":{"type":"text","font":"Liberation Serif","fontSize":25,"fontStyle":"italic","align":"right","baseline":"middle","color":"black"},
   "encoding":{"x":{"datum":-0.2,"type":"quantitative","axis":null},"y":{"datum":5.37,"type":"quantitative","axis":null},"text":{"value":"R"}}},
  {"transform":[{"filter":"datum.k=='p' && datum.r==1 && datum.c>1"}],
   "mark":{"type":"text","font":"Liberation Serif","fontSize":25,"align":"left","baseline":"middle","color":"black"},
   "encoding":{"x":{"datum":-0.2,"type":"quantitative","axis":null},"y":{"datum":5.37,"type":"quantitative","axis":null},"text":{"field":"h"}}},
  {"transform":[{"filter":"datum.k=='p' && datum.c==1"}],
   "mark":{"type":"text","font":"Liberation Serif","fontSize":25,"fontStyle":"italic","align":"left","baseline":"middle","color":"black"},
   "encoding":{"x":{"datum":-8.43,"type":"quantitative","axis":null},"y":{"datum":0.72,"type":"quantitative","axis":null},"text":{"value":"T"}}},
  {"transform":[{"filter":"datum.k=='p' && datum.c==1"}],
   "mark":{"type":"text","font":"Liberation Serif","fontSize":19,"fontStyle":"italic","align":"left","baseline":"middle","color":"black"},
   "encoding":{"x":{"datum":-7.95,"type":"quantitative","axis":null},"y":{"datum":0.27,"type":"quantitative","axis":null},"text":{"value":"n"}}},
  {"transform":[{"filter":"datum.k=='p' && datum.c==1"}],
   "mark":{"type":"text","font":"Liberation Serif","fontSize":25,"align":"right","baseline":"middle","color":"black"},
   "encoding":{"x":{"datum":-4.89,"type":"quantitative","axis":null},"y":{"datum":0.72,"type":"quantitative","axis":null},"text":{"field":"t"}}},
  {"transform":[{"filter":"datum.k=='p' && datum.c==1"}],
   "mark":{"type":"text","font":"Liberation Serif","fontSize":25,"align":"right","baseline":"middle","color":"black"},
   "encoding":{"x":{"datum":-4.89,"type":"quantitative","axis":null},"y":{"datum":-0.48,"type":"quantitative","axis":null},"text":{"field":"g"}}}
 ]
}
}
